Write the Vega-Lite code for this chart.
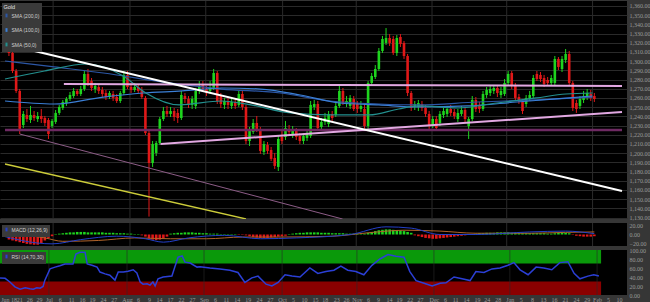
{
"$schema": "https://vega.github.io/schema/vega-lite/v6.json",
"background": "#363636",
"padding": 0,
"spacing": 4,
"bounds": "flush",
"config": {
  "font": "Liberation Sans",
  "view": {"fill": "#000000", "stroke": null},
  "axis": {"labelColor": "#9a9a9a", "labelFontSize": 6, "labelFont": "Liberation Sans Narrow", "ticks": false, "domain": false, "labelPadding": 2, "labelOverlap": false, "gridColor": "#2a2a2a", "gridWidth": 1},
  "legend": {"orient": "top-left", "offset": 2, "padding": 1.5, "fillColor": "#3a3a3a", "labelColor": "#d0d0d0", "labelFontSize": 5, "labelFont": "Liberation Sans", "titleFontSize": 5.5, "titleColor": "#e0e0e0", "titleFont": "Liberation Sans", "titleFontWeight": "normal", "rowPadding": 2.5, "titlePadding": 2.5, "labelOffset": 2, "symbolType": "M0,-1V1", "symbolStrokeWidth": 2, "symbolSize": 14}
},
"datasets": {
"c": [
{"i":0,"o":1326.3,"h":1330.6,"l":1305.6,"c":1308.9},
{"i":1,"o":1308.9,"h":1311.1,"l":1287.1,"c":1289.3},
{"i":2,"o":1289.3,"h":1291.5,"l":1265.4,"c":1267.6},
{"i":3,"o":1267.6,"h":1269.7,"l":1220.8,"c":1226.3},
{"i":4,"o":1230.6,"h":1245.8,"l":1227.3,"c":1242.6},
{"i":5,"o":1241.5,"h":1248.0,"l":1233.9,"c":1237.1},
{"i":6,"o":1236.0,"h":1251.3,"l":1232.8,"c":1241.5},
{"i":7,"o":1241.5,"h":1245.8,"l":1235.0,"c":1238.2},
{"i":8,"o":1237.1,"h":1244.7,"l":1233.9,"c":1240.4},
{"i":9,"o":1240.4,"h":1248.0,"l":1232.8,"c":1237.1},
{"i":10,"o":1238.2,"h":1240.4,"l":1229.5,"c":1232.8},
{"i":11,"o":1236.0,"h":1238.2,"l":1215.4,"c":1220.8},
{"i":12,"o":1229.5,"h":1237.1,"l":1227.3,"c":1235.0},
{"i":13,"o":1233.9,"h":1246.9,"l":1231.7,"c":1243.7},
{"i":14,"o":1243.7,"h":1252.4,"l":1241.5,"c":1250.2},
{"i":15,"o":1249.1,"h":1257.8,"l":1246.9,"c":1255.6},
{"i":16,"o":1254.5,"h":1261.0,"l":1251.3,"c":1258.9},
{"i":17,"o":1258.9,"h":1266.5,"l":1256.7,"c":1263.2},
{"i":18,"o":1262.1,"h":1270.8,"l":1260.0,"c":1267.6},
{"i":19,"o":1267.6,"h":1269.7,"l":1262.1,"c":1264.3},
{"i":20,"o":1264.3,"h":1273.0,"l":1262.1,"c":1269.7},
{"i":21,"o":1269.7,"h":1289.3,"l":1267.6,"c":1286.1},
{"i":22,"o":1286.1,"h":1291.5,"l":1273.0,"c":1276.3},
{"i":23,"o":1278.4,"h":1281.7,"l":1267.6,"c":1270.8},
{"i":24,"o":1269.7,"h":1276.3,"l":1265.4,"c":1273.0},
{"i":25,"o":1271.9,"h":1275.2,"l":1264.3,"c":1267.6},
{"i":26,"o":1268.7,"h":1271.9,"l":1261.0,"c":1264.3},
{"i":27,"o":1265.4,"h":1268.7,"l":1257.8,"c":1261.0},
{"i":28,"o":1261.0,"h":1267.6,"l":1258.9,"c":1265.4},
{"i":29,"o":1264.3,"h":1267.6,"l":1256.7,"c":1260.0},
{"i":30,"o":1261.0,"h":1264.3,"l":1254.5,"c":1256.7},
{"i":31,"o":1256.7,"h":1267.6,"l":1254.5,"c":1265.4},
{"i":32,"o":1265.4,"h":1289.3,"l":1263.2,"c":1285.0},
{"i":33,"o":1285.0,"h":1289.3,"l":1269.7,"c":1271.9},
{"i":34,"o":1271.9,"h":1276.3,"l":1265.4,"c":1268.7},
{"i":35,"o":1268.7,"h":1276.3,"l":1266.5,"c":1271.9},
{"i":36,"o":1271.9,"h":1275.2,"l":1265.4,"c":1267.6},
{"i":37,"o":1268.7,"h":1271.9,"l":1258.9,"c":1261.0},
{"i":38,"o":1260.0,"h":1262.1,"l":1219.7,"c":1221.9},
{"i":39,"o":1221.9,"h":1224.1,"l":1131.0,"c":1189.3},
{"i":40,"o":1189.3,"h":1213.2,"l":1185.0,"c":1209.9},
{"i":41,"o":1200.2,"h":1213.2,"l":1196.9,"c":1211.0},
{"i":42,"o":1211.0,"h":1239.3,"l":1208.9,"c":1237.1},
{"i":43,"o":1237.1,"h":1250.2,"l":1235.0,"c":1245.8},
{"i":44,"o":1245.8,"h":1251.3,"l":1239.3,"c":1242.6},
{"i":45,"o":1242.6,"h":1250.2,"l":1239.3,"c":1245.8},
{"i":46,"o":1245.8,"h":1249.1,"l":1235.0,"c":1239.3},
{"i":47,"o":1243.7,"h":1248.0,"l":1232.8,"c":1238.2},
{"i":48,"o":1238.2,"h":1267.6,"l":1236.0,"c":1263.2},
{"i":49,"o":1262.1,"h":1265.4,"l":1254.5,"c":1258.9},
{"i":50,"o":1258.9,"h":1262.1,"l":1249.1,"c":1252.4},
{"i":51,"o":1252.4,"h":1262.1,"l":1248.0,"c":1258.9},
{"i":52,"o":1251.3,"h":1270.8,"l":1248.0,"c":1267.6},
{"i":53,"o":1267.6,"h":1278.4,"l":1264.3,"c":1273.0},
{"i":54,"o":1274.1,"h":1278.4,"l":1266.5,"c":1269.7},
{"i":55,"o":1269.7,"h":1273.0,"l":1262.1,"c":1265.4},
{"i":56,"o":1267.6,"h":1278.4,"l":1264.3,"c":1271.9},
{"i":57,"o":1270.8,"h":1291.5,"l":1268.7,"c":1287.1},
{"i":58,"o":1287.1,"h":1289.3,"l":1253.4,"c":1256.7},
{"i":59,"o":1262.1,"h":1265.4,"l":1249.1,"c":1253.4},
{"i":60,"o":1252.4,"h":1260.0,"l":1248.0,"c":1256.7},
{"i":61,"o":1256.7,"h":1260.0,"l":1248.0,"c":1252.4},
{"i":62,"o":1251.3,"h":1258.9,"l":1248.0,"c":1255.6},
{"i":63,"o":1255.6,"h":1258.9,"l":1248.0,"c":1251.3},
{"i":64,"o":1252.4,"h":1267.6,"l":1250.2,"c":1264.3},
{"i":65,"o":1264.3,"h":1267.6,"l":1246.9,"c":1250.2},
{"i":66,"o":1250.2,"h":1252.4,"l":1209.9,"c":1213.2},
{"i":67,"o":1213.2,"h":1228.4,"l":1207.8,"c":1224.1},
{"i":68,"o":1223.0,"h":1237.1,"l":1220.8,"c":1232.8},
{"i":69,"o":1232.8,"h":1240.4,"l":1223.0,"c":1226.3},
{"i":70,"o":1226.3,"h":1228.4,"l":1199.1,"c":1202.4},
{"i":71,"o":1201.3,"h":1213.2,"l":1198.0,"c":1209.9},
{"i":72,"o":1208.9,"h":1212.1,"l":1199.1,"c":1202.4},
{"i":73,"o":1203.4,"h":1206.7,"l":1191.5,"c":1193.7},
{"i":74,"o":1194.7,"h":1200.2,"l":1182.8,"c":1186.1},
{"i":75,"o":1185.0,"h":1218.6,"l":1180.6,"c":1215.4},
{"i":76,"o":1217.6,"h":1226.3,"l":1209.9,"c":1213.2},
{"i":77,"o":1217.6,"h":1235.0,"l":1214.3,"c":1227.3},
{"i":78,"o":1226.3,"h":1230.6,"l":1219.7,"c":1223.0},
{"i":79,"o":1219.7,"h":1229.5,"l":1216.5,"c":1224.1},
{"i":80,"o":1224.1,"h":1227.3,"l":1214.3,"c":1217.6},
{"i":81,"o":1218.6,"h":1221.9,"l":1209.9,"c":1213.2},
{"i":82,"o":1213.2,"h":1221.9,"l":1209.9,"c":1218.6},
{"i":83,"o":1216.5,"h":1224.1,"l":1213.2,"c":1220.8},
{"i":84,"o":1218.6,"h":1256.7,"l":1216.5,"c":1252.4},
{"i":85,"o":1250.2,"h":1257.8,"l":1246.9,"c":1253.4},
{"i":86,"o":1253.4,"h":1256.7,"l":1225.2,"c":1227.3},
{"i":87,"o":1228.4,"h":1238.2,"l":1225.2,"c":1233.9},
{"i":88,"o":1233.9,"h":1243.7,"l":1230.6,"c":1238.2},
{"i":89,"o":1231.7,"h":1245.8,"l":1228.4,"c":1242.6},
{"i":90,"o":1242.6,"h":1245.8,"l":1235.0,"c":1238.2},
{"i":91,"o":1241.5,"h":1256.7,"l":1239.3,"c":1251.3},
{"i":92,"o":1251.3,"h":1273.0,"l":1249.1,"c":1267.6},
{"i":93,"o":1267.6,"h":1270.8,"l":1252.4,"c":1254.5},
{"i":94,"o":1253.4,"h":1262.1,"l":1250.2,"c":1256.7},
{"i":95,"o":1251.3,"h":1263.2,"l":1248.0,"c":1260.0},
{"i":96,"o":1258.9,"h":1262.1,"l":1245.8,"c":1248.0},
{"i":97,"o":1253.4,"h":1256.7,"l":1243.7,"c":1248.0},
{"i":98,"o":1248.0,"h":1256.7,"l":1244.7,"c":1251.3},
{"i":99,"o":1248.0,"h":1253.4,"l":1226.3,"c":1229.5},
{"i":100,"o":1229.5,"h":1278.4,"l":1226.3,"c":1276.3},
{"i":101,"o":1276.3,"h":1287.1,"l":1273.0,"c":1283.9},
{"i":102,"o":1282.8,"h":1295.8,"l":1280.6,"c":1291.5},
{"i":103,"o":1291.5,"h":1314.3,"l":1289.3,"c":1311.1},
{"i":104,"o":1311.1,"h":1327.4,"l":1308.9,"c":1324.1},
{"i":105,"o":1319.8,"h":1336.0,"l":1317.6,"c":1325.2},
{"i":106,"o":1325.2,"h":1329.5,"l":1316.5,"c":1319.8},
{"i":107,"o":1324.1,"h":1327.4,"l":1306.7,"c":1308.9},
{"i":108,"o":1308.9,"h":1328.4,"l":1305.6,"c":1325.2},
{"i":109,"o":1326.3,"h":1329.5,"l":1315.4,"c":1318.7},
{"i":110,"o":1319.8,"h":1321.9,"l":1302.4,"c":1305.6},
{"i":111,"o":1305.6,"h":1307.8,"l":1262.1,"c":1265.4},
{"i":112,"o":1265.4,"h":1267.6,"l":1245.8,"c":1249.1},
{"i":113,"o":1250.2,"h":1256.7,"l":1246.9,"c":1253.4},
{"i":114,"o":1250.2,"h":1257.8,"l":1245.8,"c":1254.5},
{"i":115,"o":1253.4,"h":1256.7,"l":1245.8,"c":1249.1},
{"i":116,"o":1249.1,"h":1252.4,"l":1239.3,"c":1242.6},
{"i":117,"o":1242.6,"h":1245.8,"l":1226.3,"c":1229.5},
{"i":118,"o":1230.6,"h":1240.4,"l":1227.3,"c":1237.1},
{"i":119,"o":1237.1,"h":1240.4,"l":1224.1,"c":1227.3},
{"i":120,"o":1232.8,"h":1245.8,"l":1229.5,"c":1242.6},
{"i":121,"o":1241.5,"h":1249.1,"l":1238.2,"c":1245.8},
{"i":122,"o":1242.6,"h":1251.3,"l":1239.3,"c":1248.0},
{"i":123,"o":1248.0,"h":1252.4,"l":1240.4,"c":1243.7},
{"i":124,"o":1244.7,"h":1248.0,"l":1237.1,"c":1240.4},
{"i":125,"o":1237.1,"h":1248.0,"l":1233.9,"c":1243.7},
{"i":126,"o":1242.6,"h":1251.3,"l":1240.4,"c":1246.9},
{"i":127,"o":1246.9,"h":1250.2,"l":1233.9,"c":1237.1},
{"i":128,"o":1229.5,"h":1239.3,"l":1215.4,"c":1237.1},
{"i":129,"o":1237.1,"h":1262.1,"l":1235.0,"c":1257.8},
{"i":130,"o":1257.8,"h":1261.0,"l":1244.7,"c":1248.0},
{"i":131,"o":1252.4,"h":1255.6,"l":1243.7,"c":1248.0},
{"i":132,"o":1248.0,"h":1267.6,"l":1245.8,"c":1264.3},
{"i":133,"o":1263.2,"h":1271.9,"l":1260.0,"c":1268.7},
{"i":134,"o":1265.4,"h":1273.0,"l":1262.1,"c":1269.7},
{"i":135,"o":1267.6,"h":1274.1,"l":1264.3,"c":1270.8},
{"i":136,"o":1270.8,"h":1274.1,"l":1261.0,"c":1265.4},
{"i":137,"o":1263.2,"h":1271.9,"l":1260.0,"c":1267.6},
{"i":138,"o":1264.3,"h":1280.6,"l":1262.1,"c":1276.3},
{"i":139,"o":1276.3,"h":1289.3,"l":1274.1,"c":1286.1},
{"i":140,"o":1287.1,"h":1289.3,"l":1269.7,"c":1273.0},
{"i":141,"o":1273.0,"h":1276.3,"l":1256.7,"c":1260.0},
{"i":142,"o":1261.0,"h":1264.3,"l":1253.4,"c":1256.7},
{"i":143,"o":1255.6,"h":1258.9,"l":1242.6,"c":1245.8},
{"i":144,"o":1253.4,"h":1263.2,"l":1250.2,"c":1260.0},
{"i":145,"o":1258.9,"h":1267.6,"l":1256.7,"c":1263.2},
{"i":146,"o":1262.1,"h":1285.0,"l":1260.0,"c":1281.7},
{"i":147,"o":1286.1,"h":1289.3,"l":1278.4,"c":1280.6},
{"i":148,"o":1285.0,"h":1288.2,"l":1277.4,"c":1280.6},
{"i":149,"o":1281.7,"h":1285.0,"l":1271.9,"c":1275.2},
{"i":150,"o":1279.5,"h":1282.8,"l":1273.0,"c":1276.3},
{"i":151,"o":1276.3,"h":1285.0,"l":1273.0,"c":1281.7},
{"i":152,"o":1276.3,"h":1305.6,"l":1274.1,"c":1302.4},
{"i":153,"o":1302.4,"h":1304.5,"l":1290.4,"c":1293.7},
{"i":154,"o":1291.5,"h":1305.6,"l":1288.2,"c":1302.4},
{"i":155,"o":1301.3,"h":1313.2,"l":1298.0,"c":1307.8},
{"i":156,"o":1307.8,"h":1311.1,"l":1274.1,"c":1276.3},
{"i":157,"o":1276.3,"h":1278.4,"l":1245.8,"c":1249.1},
{"i":158,"o":1254.5,"h":1257.8,"l":1243.7,"c":1248.0},
{"i":159,"o":1251.3,"h":1262.1,"l":1248.0,"c":1258.9},
{"i":160,"o":1257.8,"h":1267.6,"l":1254.5,"c":1262.1},
{"i":161,"o":1261.0,"h":1269.7,"l":1257.8,"c":1265.4},
{"i":162,"o":1264.3,"h":1268.7,"l":1256.7,"c":1260.0},
{"i":163,"o":1262.1,"h":1265.4,"l":1255.6,"c":1258.9}
],
"months": [{"i":12.3},{"i":33.7},{"i":54.8},{"i":76.2},{"i":96.7},{"i":117.8},{"i":138.6},{"i":162.5}],
"sma": [
{"s":"SMA (200,0)","i":-1.1,"v":1300.2},{"s":"SMA (200,0)","i":12.6,"v":1293.7},{"s":"SMA (200,0)","i":26.3,"v":1287.1},{"s":"SMA (200,0)","i":44.7,"v":1276.3},{"s":"SMA (200,0)","i":59.2,"v":1269.7},{"s":"SMA (200,0)","i":75.6,"v":1265.4},{"s":"SMA (200,0)","i":89.3,"v":1256.7},{"s":"SMA (200,0)","i":103.0,"v":1253.4},{"s":"SMA (200,0)","i":114.0,"v":1252.4},{"s":"SMA (200,0)","i":130.4,"v":1255.6},{"s":"SMA (200,0)","i":146.8,"v":1257.8},{"s":"SMA (200,0)","i":162.5,"v":1261.0},
{"s":"SMA (100,0)","i":-1.1,"v":1256.7},{"s":"SMA (100,0)","i":12.6,"v":1253.4},{"s":"SMA (100,0)","i":26.3,"v":1261.0},{"s":"SMA (100,0)","i":37.3,"v":1265.4},{"s":"SMA (100,0)","i":48.2,"v":1267.6},{"s":"SMA (100,0)","i":59.2,"v":1270.8},{"s":"SMA (100,0)","i":70.1,"v":1269.7},{"s":"SMA (100,0)","i":81.1,"v":1263.2},{"s":"SMA (100,0)","i":92.1,"v":1254.5},{"s":"SMA (100,0)","i":103.0,"v":1252.4},{"s":"SMA (100,0)","i":114.0,"v":1250.2},{"s":"SMA (100,0)","i":127.7,"v":1251.3},{"s":"SMA (100,0)","i":141.4,"v":1255.6},{"s":"SMA (100,0)","i":152.3,"v":1258.9},{"s":"SMA (100,0)","i":162.5,"v":1262.1},
{"s":"SMA (50,0)","i":-1.1,"v":1280.6},{"s":"SMA (50,0)","i":9.9,"v":1289.3},{"s":"SMA (50,0)","i":21.6,"v":1296.9},{"s":"SMA (50,0)","i":31.8,"v":1283.9},{"s":"SMA (50,0)","i":38.1,"v":1265.4},{"s":"SMA (50,0)","i":47.4,"v":1252.4},{"s":"SMA (50,0)","i":59.2,"v":1256.7},{"s":"SMA (50,0)","i":67.4,"v":1252.4},{"s":"SMA (50,0)","i":78.4,"v":1243.7},{"s":"SMA (50,0)","i":89.3,"v":1241.5},{"s":"SMA (50,0)","i":100.3,"v":1241.5},{"s":"SMA (50,0)","i":108.5,"v":1248.0},{"s":"SMA (50,0)","i":114.0,"v":1251.3},{"s":"SMA (50,0)","i":124.9,"v":1249.1},{"s":"SMA (50,0)","i":135.9,"v":1254.5},{"s":"SMA (50,0)","i":146.8,"v":1260.0},{"s":"SMA (50,0)","i":155.1,"v":1264.3},{"s":"SMA (50,0)","i":162.5,"v":1265.4}
],
"trend": [
{"name":"white","i":-1.1,"v":1318.6},{"name":"white","i":170.7,"v":1158.9},
{"name":"pinkH","i":15.3,"v":1275.2},{"name":"pinkH","i":170.7,"v":1273.0},
{"name":"pinkU","i":42.2,"v":1210.0},{"name":"pinkU","i":170.7,"v":1244.7},
{"name":"purple","i":-1.1,"v":1225.2},{"name":"purple","i":170.7,"v":1225.2},
{"name":"mauve","i":3.0,"v":1220.8},{"name":"mauve","i":92.9,"v":1128.4},
{"name":"yellow","i":-1.1,"v":1188.2},{"name":"yellow","i":66.0,"v":1128.4}
],
"macd": [
{"i":0,"h":-12},{"i":1,"h":-14},{"i":2,"h":-16},{"i":3,"h":-18},{"i":4,"h":-20},{"i":5,"h":-22},{"i":6,"h":-23},{"i":7,"h":-24},{"i":8,"h":-24},{"i":9,"h":-20},{"i":10,"h":-14},{"i":11,"h":-9},{"i":12,"h":-4},
{"i":13,"h":1},{"i":14,"h":2},{"i":15,"h":3},{"i":16,"h":4},{"i":17,"h":5},{"i":18,"h":5},{"i":19,"h":6},{"i":20,"h":6},{"i":21,"h":6},{"i":22,"h":5},{"i":23,"h":5},{"i":24,"h":5},{"i":25,"h":5},{"i":26,"h":5},{"i":27,"h":4},{"i":28,"h":4},{"i":29,"h":4},{"i":30,"h":3},{"i":31,"h":3},{"i":32,"h":3},{"i":33,"h":2},{"i":34,"h":2},{"i":35,"h":1},{"i":36,"h":1},
{"i":37,"h":-2},{"i":38,"h":-5},{"i":39,"h":-9},{"i":40,"h":-12},{"i":41,"h":-13},{"i":42,"h":-12},{"i":43,"h":-9},{"i":44,"h":-5},
{"i":45,"h":2},{"i":46,"h":3},{"i":47,"h":4},{"i":48,"h":4},{"i":49,"h":5},{"i":50,"h":5},{"i":51,"h":5},{"i":52,"h":4},{"i":53,"h":4},{"i":54,"h":3},{"i":55,"h":3},
{"i":56,"h":2},{"i":57,"h":2},{"i":58,"h":2},{"i":59,"h":1},{"i":60,"h":1},{"i":61,"h":1},{"i":62,"h":1},{"i":63,"h":1},{"i":64,"h":-1},{"i":65,"h":-1},
{"i":66,"h":-2},{"i":67,"h":-4},{"i":68,"h":-6},{"i":69,"h":-7},{"i":70,"h":-8},{"i":71,"h":-8},{"i":72,"h":-8},{"i":73,"h":-7},{"i":74,"h":-6},{"i":75,"h":-5},{"i":76,"h":-4},{"i":77,"h":-3},
{"i":78,"h":1},{"i":79,"h":2},{"i":80,"h":3},{"i":81,"h":4},{"i":82,"h":4},{"i":83,"h":5},{"i":84,"h":5},{"i":85,"h":5},{"i":86,"h":5},{"i":87,"h":4},{"i":88,"h":4},{"i":89,"h":4},{"i":90,"h":3},{"i":91,"h":3},{"i":92,"h":3},{"i":93,"h":3},{"i":94,"h":2},{"i":95,"h":2},{"i":96,"h":2},{"i":97,"h":2},{"i":98,"h":1},
{"i":99,"h":2},{"i":100,"h":4},{"i":101,"h":6},{"i":102,"h":8},{"i":103,"h":10},{"i":104,"h":11},{"i":105,"h":12},{"i":106,"h":12},{"i":107,"h":11},{"i":108,"h":10},{"i":109,"h":9},{"i":110,"h":8},{"i":111,"h":6},{"i":112,"h":4},
{"i":113,"h":-2},{"i":114,"h":-4},{"i":115,"h":-6},{"i":116,"h":-8},{"i":117,"h":-9},{"i":118,"h":-10},{"i":119,"h":-10},{"i":120,"h":-9},{"i":121,"h":-8},{"i":122,"h":-7},{"i":123,"h":-6},{"i":124,"h":-5},{"i":125,"h":-4},{"i":126,"h":-3},{"i":127,"h":-2},{"i":128,"h":-1},
{"i":129,"h":1},{"i":130,"h":2},{"i":131,"h":3},{"i":132,"h":3},{"i":133,"h":4},{"i":134,"h":4},{"i":135,"h":4},{"i":136,"h":5},{"i":137,"h":5},{"i":138,"h":5},{"i":139,"h":5},{"i":140,"h":4},{"i":141,"h":4},{"i":142,"h":3},{"i":143,"h":3},{"i":144,"h":3},{"i":145,"h":3},{"i":146,"h":3},{"i":147,"h":3},{"i":148,"h":3},{"i":149,"h":3},{"i":150,"h":2},
{"i":151,"h":2},{"i":152,"h":3},{"i":153,"h":4},{"i":154,"h":4},{"i":155,"h":4},{"i":156,"h":3},
{"i":157,"h":-1},{"i":158,"h":-3},{"i":159,"h":-4},{"i":160,"h":-5},{"i":161,"h":-5},{"i":162,"h":-5},{"i":163,"h":-4}
],
"macdl": [
{"k":"MACD","i":-1.1,"v":-5},{"k":"MACD","i":8,"v":-20},{"k":"MACD","i":12,"v":-22},{"k":"MACD","i":20,"v":-12},{"k":"MACD","i":30,"v":-4},{"k":"MACD","i":38,"v":-10},{"k":"MACD","i":43,"v":-18},{"k":"MACD","i":50,"v":-8},{"k":"MACD","i":60,"v":-2},{"k":"MACD","i":70,"v":-10},{"k":"MACD","i":80,"v":-8},{"k":"MACD","i":95,"v":0},{"k":"MACD","i":105,"v":18},{"k":"MACD","i":112,"v":15},{"k":"MACD","i":120,"v":0},{"k":"MACD","i":130,"v":0},{"k":"MACD","i":145,"v":6},{"k":"MACD","i":155,"v":8},{"k":"MACD","i":163,"v":2},
{"k":"Signal","i":-1.1,"v":5},{"k":"Signal","i":10,"v":-8},{"k":"Signal","i":15,"v":-16},{"k":"Signal","i":25,"v":-14},{"k":"Signal","i":35,"v":-8},{"k":"Signal","i":45,"v":-10},{"k":"Signal","i":55,"v":-10},{"k":"Signal","i":65,"v":-6},{"k":"Signal","i":75,"v":-6},{"k":"Signal","i":90,"v":-4},{"k":"Signal","i":100,"v":4},{"k":"Signal","i":110,"v":10},{"k":"Signal","i":120,"v":8},{"k":"Signal","i":130,"v":3},{"k":"Signal","i":145,"v":3},{"k":"Signal","i":155,"v":5},{"k":"Signal","i":163,"v":6}
],
"rsi": [
{"i":-1.1,"v":38},{"i":0.3,"v":37},{"i":1.6,"v":29},{"i":3.0,"v":18},{"i":4.4,"v":13},{"i":5.8,"v":16},{"i":7.1,"v":14},{"i":8.0,"v":13},{"i":9.0,"v":16},{"i":9.9,"v":15},{"i":10.7,"v":19},{"i":11.2,"v":33},{"i":12.6,"v":58},{"i":14.0,"v":62},{"i":15.3,"v":65},{"i":16.7,"v":69},{"i":18.9,"v":69},{"i":19.7,"v":91},{"i":20.8,"v":95},{"i":22.2,"v":95},{"i":22.8,"v":69},{"i":24.1,"v":66},{"i":25.5,"v":62},{"i":26.3,"v":51},{"i":27.7,"v":47},{"i":29.0,"v":44},{"i":30.4,"v":33},{"i":31.3,"v":51},{"i":32.7,"v":51},{"i":34.0,"v":53},{"i":35.4,"v":56},{"i":36.4,"v":49},{"i":37.3,"v":29},{"i":38.1,"v":24},{"i":39.2,"v":25},{"i":40.0,"v":22},{"i":40.8,"v":29},{"i":41.4,"v":20},{"i":42.2,"v":36},{"i":43.6,"v":40},{"i":46.0,"v":42},{"i":46.8,"v":62},{"i":47.7,"v":84},{"i":48.8,"v":87},{"i":49.6,"v":73},{"i":51.0,"v":71},{"i":52.9,"v":62},{"i":53.7,"v":63},
{"i":56.4,"v":60},{"i":59.2,"v":58},{"i":61.9,"v":55},{"i":64.1,"v":50},{"i":66.0,"v":28},{"i":67.9,"v":38},{"i":69.6,"v":42},{"i":71.8,"v":24},{"i":73.4,"v":20},{"i":75.1,"v":28},{"i":77.0,"v":45},{"i":78.9,"v":42},{"i":81.1,"v":40},{"i":83.8,"v":60},{"i":86.0,"v":48},{"i":88.2,"v":52},{"i":90.4,"v":55},{"i":92.3,"v":64},{"i":94.2,"v":55},{"i":96.4,"v":52},{"i":98.6,"v":45},{"i":100.8,"v":66},{"i":103.0,"v":80},{"i":105.2,"v":90},{"i":107.4,"v":86},{"i":109.6,"v":84},{"i":111.2,"v":52},{"i":112.9,"v":32},{"i":115.1,"v":26},{"i":117.3,"v":20},{"i":119.5,"v":26},{"i":121.1,"v":27},{"i":123.3,"v":40},{"i":125.5,"v":36},{"i":127.7,"v":32},{"i":129.3,"v":52},{"i":131.5,"v":50},{"i":133.7,"v":58},{"i":135.9,"v":60},{"i":138.1,"v":66},{"i":139.7,"v":72},{"i":141.4,"v":56},{"i":143.6,"v":45},{"i":145.8,"v":62},{"i":147.9,"v":60},{"i":150.1,"v":56},{"i":152.3,"v":72},{"i":154.5,"v":74},{"i":156.2,"v":48},{"i":157.8,"v":36},{"i":160.0,"v":42},{"i":161.6,"v":45},{"i":163.0,"v":42}
],
"bands": [{"zone":"ob","lo":70,"hi":100,"a":-1.1,"b":163.6},{"zone":"os","lo":0,"hi":30,"a":-1.1,"b":163.6}]
},
"resolve": {"scale": {"x": "independent", "y": "independent", "color": "independent"}},
"vconcat": [
{
  "width": 627, "height": 218,
  "layer": [
    {"data": {"name": "months"}, "mark": {"type": "rule", "color": "#2a2a2a", "strokeWidth": 1},
     "encoding": {"x": {"field": "i", "type": "quantitative", "scale": {"domain": [-1.1, 170.7], "nice": false, "zero": false}, "axis": null}}},
    {"data": {"name": "c"}, "mark": {"type": "rule", "strokeWidth": 1},
     "encoding": {
       "x": {"field": "i", "type": "quantitative"},
       "y": {"field": "l", "type": "quantitative", "scale": {"domain": [1128.4, 1365.4], "nice": false, "zero": false},
             "axis": {"orient": "right", "values": [1130,1140,1150,1160,1170,1180,1190,1200,1210,1220,1230,1240,1250,1260,1270,1280,1290,1300,1310,1320,1330,1340,1350,1360], "tickCount": 500, "format": ",.2f", "grid": true, "labelOverlap": false, "labelBound": false, "title": null}},
       "y2": {"field": "h"},
       "color": {"condition": {"test": "datum.c > datum.o", "value": "#1ed41e"}, "value": "#e01818"}}},
    {"data": {"name": "c"}, "mark": {"type": "bar", "size": 2.6},
     "encoding": {
       "x": {"field": "i", "type": "quantitative"},
       "y": {"field": "o", "type": "quantitative"},
       "y2": {"field": "c"},
       "color": {"condition": {"test": "datum.c > datum.o", "value": "#1ed41e"}, "value": "#e01818"}}},
    {"data": {"name": "sma"}, "mark": {"type": "line", "strokeWidth": 1.2, "interpolate": "monotone", "clip": true},
     "encoding": {
       "x": {"field": "i", "type": "quantitative"},
       "y": {"field": "v", "type": "quantitative"},
       "color": {"field": "s", "type": "nominal", "scale": {"domain": ["SMA (200,0)", "SMA (100,0)", "SMA (50,0)"], "range": ["#2c57a6", "#3b7fd6", "#23908f"]},
                 "legend": {"title": "Gold", "symbolType": "M0,-1V1", "symbolStrokeWidth": 2}}}},
    {"data": {"name": "trend"}, "transform": [{"filter": "datum.name === 'mauve'"}], "mark": {"type": "line", "color": "#8c5c86", "strokeWidth": 1, "clip": true},
     "encoding": {"x": {"field": "i", "type": "quantitative"}, "y": {"field": "v", "type": "quantitative"}}},
    {"data": {"name": "trend"}, "transform": [{"filter": "datum.name === 'yellow'"}], "mark": {"type": "line", "color": "#cccc3a", "strokeWidth": 1.3, "clip": true},
     "encoding": {"x": {"field": "i", "type": "quantitative"}, "y": {"field": "v", "type": "quantitative"}}},
    {"data": {"name": "trend"}, "transform": [{"filter": "datum.name === 'purple'"}], "mark": {"type": "line", "color": "#6e2a62", "strokeWidth": 2.5, "clip": true},
     "encoding": {"x": {"field": "i", "type": "quantitative"}, "y": {"field": "v", "type": "quantitative"}}},
    {"data": {"name": "trend"}, "transform": [{"filter": "datum.name === 'pinkH' || datum.name === 'pinkU'"}], "mark": {"type": "line", "color": "#e2a8e2", "strokeWidth": 2, "clip": true},
     "encoding": {"x": {"field": "i", "type": "quantitative"}, "y": {"field": "v", "type": "quantitative"}, "detail": {"field": "name"}}},
    {"data": {"name": "trend"}, "transform": [{"filter": "datum.name === 'white'"}], "mark": {"type": "line", "color": "#ffffff", "strokeWidth": 2, "clip": true},
     "encoding": {"x": {"field": "i", "type": "quantitative"}, "y": {"field": "v", "type": "quantitative"}}}
  ]
},
{
  "width": 627, "height": 23,
  "layer": [
    {"data": {"name": "months"}, "mark": {"type": "rule", "color": "#2a2a2a", "strokeWidth": 1},
     "encoding": {"x": {"field": "i", "type": "quantitative", "scale": {"domain": [-1.1, 170.7], "nice": false, "zero": false}, "axis": null}}},
    {"data": {"name": "macd"}, "mark": {"type": "bar", "size": 2.6},
     "encoding": {
       "x": {"field": "i", "type": "quantitative"},
       "y": {"field": "h", "type": "quantitative", "scale": {"domain": [-27, 27], "nice": false, "zero": false},
             "axis": {"orient": "right", "values": [-20, 0, 20], "tickCount": 500, "format": ".2f", "grid": false, "labelOverlap": false, "title": null}},
       "y2": {"datum": 0},
       "color": {"condition": {"test": "datum.h >= 0", "value": "#1ed41e"}, "value": "#e01818"}}},
    {"data": {"name": "macdl"}, "transform": [{"filter": "datum.k === 'Signal'"}], "mark": {"type": "line", "color": "#b0642a", "strokeWidth": 1, "interpolate": "monotone", "clip": true},
     "encoding": {"x": {"field": "i", "type": "quantitative"}, "y": {"field": "v", "type": "quantitative"}}},
    {"data": {"name": "macdl"}, "transform": [{"filter": "datum.k === 'MACD'"}], "mark": {"type": "line", "strokeWidth": 1, "interpolate": "monotone", "clip": true},
     "encoding": {"x": {"field": "i", "type": "quantitative"}, "y": {"field": "v", "type": "quantitative"},
       "color": {"datum": "MACD (12,26,9)", "type": "nominal", "scale": {"range": ["#2440c8"]}, "legend": {"title": null, "symbolType": "M0,-1V1", "symbolStrokeWidth": 2}}}}
  ]
},
{
  "width": 627, "height": 45,
  "layer": [
    {"data": {"name": "bands"}, "mark": {"type": "rect"},
     "encoding": {
       "x": {"field": "a", "type": "quantitative", "scale": {"domain": [-1.1, 170.7], "nice": false, "zero": false},
             "axis": {"values": [-0.9,4.2,6.9,9.6,12.3,15.3,18.4,21.4,24.1,27.1,30.1,33.7,36.7,39.7,42.5,45.5,48.5,51.5,54.8,57.8,60.8,63.8,66.8,69.9,72.9,76.2,79.2,82.2,85.2,87.9,91,93.7,96.7,99.7,102.5,105.5,108.2,111.2,114,117.8,120.8,123.6,126.6,129.6,132.3,135.3,138.6,141.6,144.7,147.7,150.7,153.7,156.7,159.7,162.5,165.5,168.5],
                      "tickCount": 500,
                      "labelExpr": "{'-0.9':'Jun 18','4.2':'21','6.9':'26','9.6':'29','12.3':'Jul','15.3':'6','18.4':'11','21.4':'16','24.1':'19','27.1':'24','30.1':'27','33.7':'Aug','36.7':'6','39.7':'9','42.5':'14','45.5':'17','48.5':'22','51.5':'27','54.8':'Sep','57.8':'6','60.8':'11','63.8':'14','66.8':'19','69.9':'24','72.9':'27','76.2':'Oct','79.2':'5','82.2':'10','85.2':'15','87.9':'18','91':'23','93.7':'26','96.7':'Nov','99.7':'6','102.5':'9','105.5':'14','108.2':'19','111.2':'22','114':'27','117.8':'Dec','120.8':'6','123.6':'11','126.6':'14','129.6':'19','132.3':'24','135.3':'28','138.6':'Jan','141.6':'5','144.7':'8','147.7':'13','150.7':'16','153.7':'21','156.7':'24','159.7':'29','162.5':'Feb','165.5':'5','168.5':'10'}[datum.value]",
                      "labelFlush": 5, "labelBound": false, "labelOverlap": false, "labelPadding": 1, "grid": false, "title": null}},
       "x2": {"field": "b"},
       "y": {"field": "lo", "type": "quantitative", "scale": {"domain": [0, 100], "nice": false, "zero": false},
             "axis": {"orient": "right", "values": [0, 20, 40, 60, 80, 100], "tickCount": 500, "format": ".2f", "grid": false, "labelOverlap": false, "title": null}},
       "y2": {"field": "hi"},
       "color": {"condition": {"test": "datum.zone === 'ob'", "value": "#0a990a"}, "value": "#8a0000"}}},
    {"data": {"name": "months"}, "mark": {"type": "rule", "color": "#2a2a2a", "strokeWidth": 1, "opacity": 0.6},
     "encoding": {"x": {"field": "i", "type": "quantitative"}}},
    {"data": {"name": "rsi"}, "mark": {"type": "line", "strokeWidth": 1.5, "interpolate": "linear", "clip": true},
     "encoding": {"x": {"field": "i", "type": "quantitative"}, "y": {"field": "v", "type": "quantitative"},
       "color": {"datum": "RSI (14,70,30)", "type": "nominal", "scale": {"range": ["#2b3fd6"]}, "legend": {"title": null, "symbolType": "M0,-1V1", "symbolStrokeWidth": 2, "symbolStrokeColor": "#1fb51f"}}}}
  ]
}
]
}
